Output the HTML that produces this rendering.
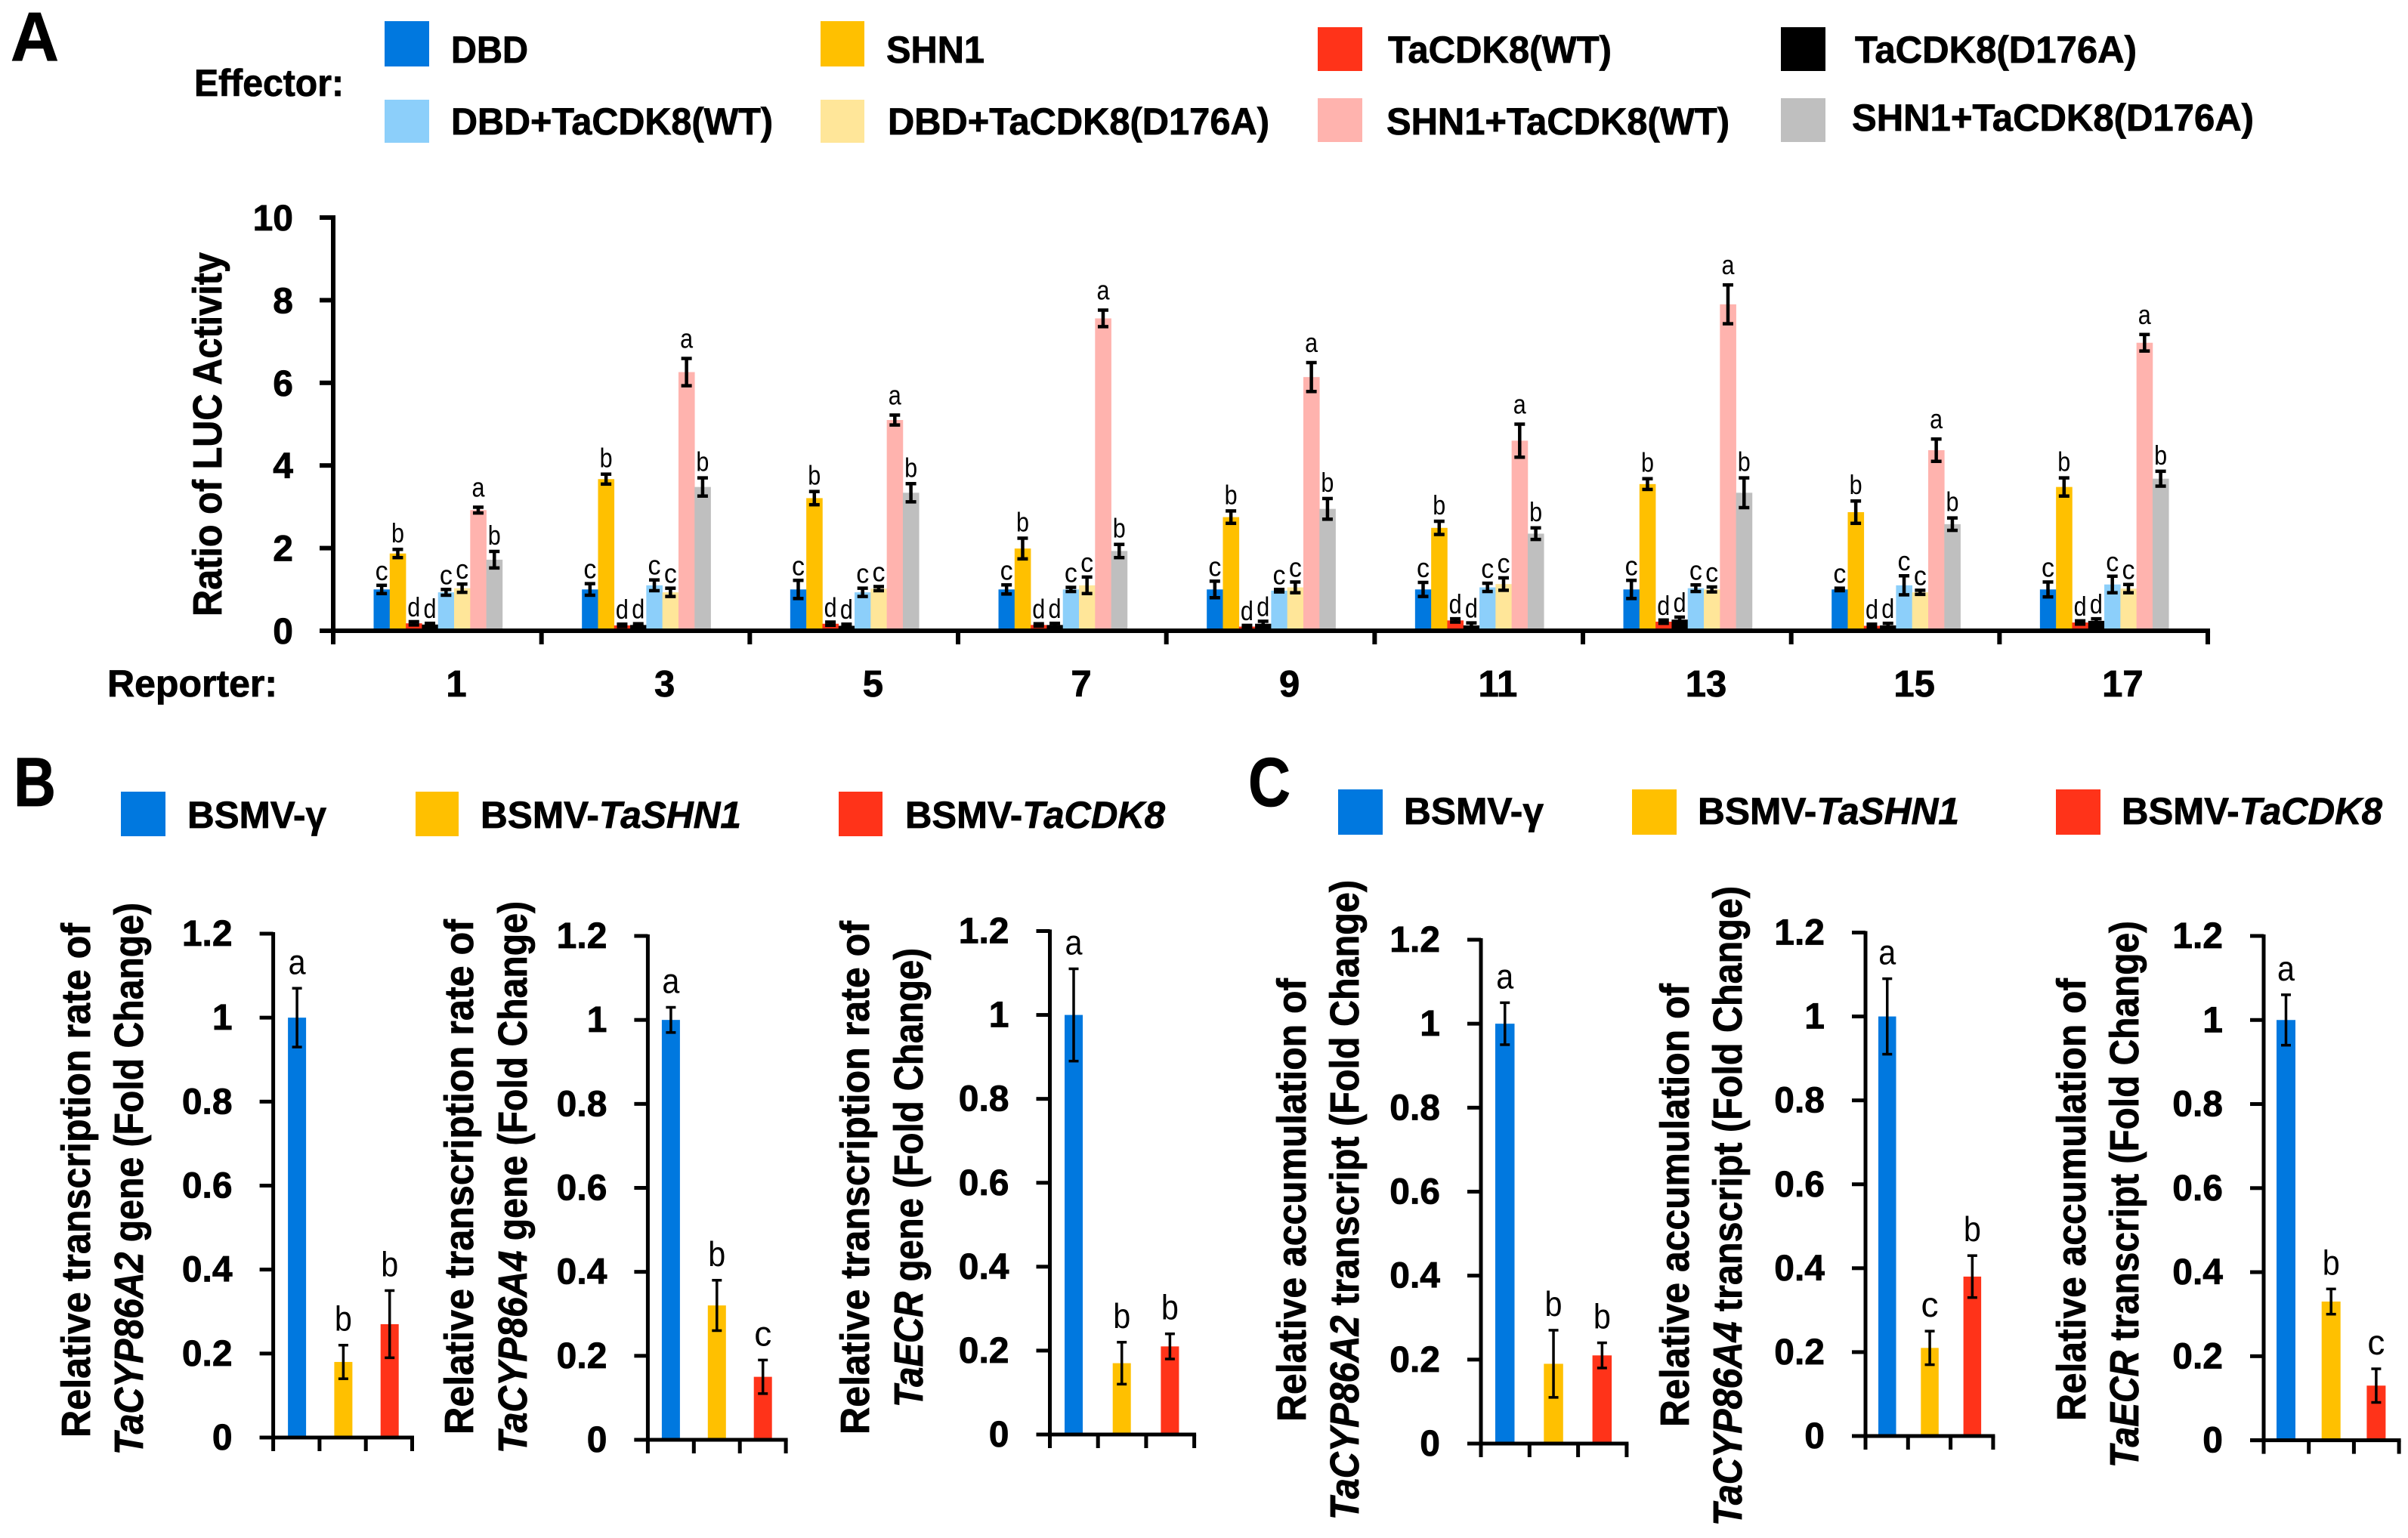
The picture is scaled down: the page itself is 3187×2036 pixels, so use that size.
<!DOCTYPE html>
<html lang="en">
<head>
<meta charset="utf-8">
<title>LUC activity and transcript accumulation charts</title>
<style>
html,body{margin:0;padding:0;background:#fff;}
svg{display:block;font-family:"Liberation Sans",Arial,sans-serif;}
.b{font-weight:700;fill:#000;stroke:#000;stroke-width:0.8px;}
.leg{font-size:50px;}
.ttl{font-size:54px;}
.i{font-style:italic;}
.panel{font-size:92px;font-weight:700;}
</style>
</head>
<body>
<svg id="figure" xmlns="http://www.w3.org/2000/svg" width="3187" height="2036" viewBox="0 0 3187 2036">
  <rect x="0" y="0" width="3187" height="2036" fill="#fff"/>

  <text class="b panel" x="14" y="80" textLength="64" lengthAdjust="spacingAndGlyphs">A</text>
  <text class="b leg" x="257" y="127" textLength="198" lengthAdjust="spacingAndGlyphs">Effector:</text>

  <g>
    <g><rect x="509" y="28" width="59" height="60" fill="#0078DF"/><text class="b leg" x="597" y="83" textLength="102" lengthAdjust="spacingAndGlyphs">DBD</text></g>
    <g><rect x="1086" y="28" width="58" height="60" fill="#FFC000"/><text class="b leg" x="1173" y="83" textLength="130" lengthAdjust="spacingAndGlyphs">SHN1</text></g>
    <g><rect x="1744" y="36" width="59" height="58" fill="#FF3319"/><text class="b leg" x="1837" y="83" textLength="296" lengthAdjust="spacingAndGlyphs">TaCDK8(WT)</text></g>
    <g><rect x="2357" y="36" width="59" height="58" fill="#000"/><text class="b leg" x="2455" y="83" textLength="373" lengthAdjust="spacingAndGlyphs">TaCDK8(D176A)</text></g>
    <g><rect x="509" y="132" width="59" height="57" fill="#8CCFFA"/><text class="b leg" x="597" y="178" textLength="426" lengthAdjust="spacingAndGlyphs">DBD+TaCDK8(WT)</text></g>
    <g><rect x="1086" y="132" width="58" height="57" fill="#FFE699"/><text class="b leg" x="1175" y="178" textLength="505" lengthAdjust="spacingAndGlyphs">DBD+TaCDK8(D176A)</text></g>
    <g><rect x="1744" y="130" width="59" height="58" fill="#FFB3AE"/><text class="b leg" x="1835" y="178" textLength="454" lengthAdjust="spacingAndGlyphs">SHN1+TaCDK8(WT)</text></g>
    <g><rect x="2357" y="130" width="59" height="58" fill="#BFBFBF"/><text class="b leg" x="2451" y="173" textLength="532" lengthAdjust="spacingAndGlyphs">SHN1+TaCDK8(D176A)</text></g>
  </g>

  <text class="b ttl" transform="translate(293,816) rotate(-90)" textLength="482" lengthAdjust="spacingAndGlyphs">Ratio of LUC Activity</text>
  <text class="b leg" x="142" y="922" textLength="225" lengthAdjust="spacingAndGlyphs">Reporter:</text>

  <text class="b panel" x="18" y="1067" textLength="56" lengthAdjust="spacingAndGlyphs">B</text>
  <g>
    <g><rect x="160" y="1048" width="59" height="59" fill="#0078DF"/><text class="b leg" x="248" y="1096" textLength="184" lengthAdjust="spacingAndGlyphs">BSMV-γ</text></g>
    <g><rect x="550" y="1048" width="57" height="59" fill="#FFC000"/><text class="b leg" x="636" y="1096" textLength="345" lengthAdjust="spacingAndGlyphs">BSMV-<tspan class="i">TaSHN1</tspan></text></g>
    <g><rect x="1110" y="1048" width="58" height="59" fill="#FF3319"/><text class="b leg" x="1198" y="1096" textLength="344" lengthAdjust="spacingAndGlyphs">BSMV-<tspan class="i">TaCDK8</tspan></text></g>
  </g>

  <text class="b panel" x="1652" y="1067" textLength="56" lengthAdjust="spacingAndGlyphs">C</text>
  <g>
    <g><rect x="1771" y="1045" width="59" height="60" fill="#0078DF"/><text class="b leg" x="1858" y="1091" textLength="185" lengthAdjust="spacingAndGlyphs">BSMV-γ</text></g>
    <g><rect x="2160" y="1045" width="59" height="60" fill="#FFC000"/><text class="b leg" x="2247" y="1091" textLength="346" lengthAdjust="spacingAndGlyphs">BSMV-<tspan class="i">TaSHN1</tspan></text></g>
    <g><rect x="2721" y="1045" width="59" height="60" fill="#FF3319"/><text class="b leg" x="2808" y="1091" textLength="345" lengthAdjust="spacingAndGlyphs">BSMV-<tspan class="i">TaCDK8</tspan></text></g>
  </g>

  <g>
    <text class="b ttl" transform="translate(119,1903) rotate(-90)" textLength="681" lengthAdjust="spacingAndGlyphs">Relative transcription rate of</text>
    <text class="b ttl" transform="translate(189,1926) rotate(-90)" textLength="731" lengthAdjust="spacingAndGlyphs"><tspan class="i">TaCYP86A2</tspan> gene (Fold Change)</text>
    <text class="b ttl" transform="translate(626,1899) rotate(-90)" textLength="682" lengthAdjust="spacingAndGlyphs">Relative transcription rate of</text>
    <text class="b ttl" transform="translate(697,1924) rotate(-90)" textLength="731" lengthAdjust="spacingAndGlyphs"><tspan class="i">TaCYP86A4</tspan> gene (Fold Change)</text>
    <text class="b ttl" transform="translate(1150,1899) rotate(-90)" textLength="680" lengthAdjust="spacingAndGlyphs">Relative transcription rate of</text>
    <text class="b ttl" transform="translate(1221,1863) rotate(-90)" textLength="608" lengthAdjust="spacingAndGlyphs"><tspan class="i">TaECR</tspan> gene (Fold Change)</text>
  </g>
  <g>
    <text class="b ttl" transform="translate(1728,1882) rotate(-90)" textLength="587" lengthAdjust="spacingAndGlyphs">Relative accumulation of</text>
    <text class="b ttl" transform="translate(1798,2012) rotate(-90)" textLength="847" lengthAdjust="spacingAndGlyphs"><tspan class="i">TaCYP86A2</tspan> transcript (Fold Change)</text>
    <text class="b ttl" transform="translate(2235,1889) rotate(-90)" textLength="587" lengthAdjust="spacingAndGlyphs">Relative accumulation of</text>
    <text class="b ttl" transform="translate(2305,2020) rotate(-90)" textLength="847" lengthAdjust="spacingAndGlyphs"><tspan class="i">TaCYP86A4</tspan> transcript (Fold Change)</text>
    <text class="b ttl" transform="translate(2760,1881) rotate(-90)" textLength="586" lengthAdjust="spacingAndGlyphs">Relative accumulation of</text>
    <text class="b ttl" transform="translate(2830,1943) rotate(-90)" textLength="724" lengthAdjust="spacingAndGlyphs"><tspan class="i">TaECR</tspan> transcript (Fold Change)</text>
  </g>

  <g id="charts"></g>
</svg>

<script>
// Panel A data
const reporterCategories = ['1','3','5','7','9','11','13','15','17'];
const reporterTickLabels = ['0','2','4','6','8','10'];
const reporterTickValues = [0,2,4,6,8,10];

const dbdValues = [1,1,1,1,1,1,1,1,1];
const dbdErrors = [0.1,0.14,0.22,0.11,0.2,0.17,0.22,0.03,0.18];
const shn1Values = [1.87,3.67,3.21,1.99,2.75,2.49,3.55,2.87,3.48];
const shn1Errors = [0.1,0.12,0.16,0.25,0.15,0.16,0.13,0.27,0.22];
const cdk8WtValues = [0.18,0.13,0.17,0.14,0.1,0.25,0.22,0.12,0.2];
const cdk8WtErrors = [0.04,0.03,0.04,0.03,0.03,0.04,0.04,0.04,0.04];
const cdk8MutValues = [0.15,0.14,0.12,0.14,0.17,0.13,0.27,0.13,0.24];
const cdk8MutErrors = [0.03,0.03,0.04,0.04,0.06,0.06,0.06,0.05,0.05];
const dbdWtValues = [0.93,1.1,0.93,1.0,0.97,1.05,1.03,1.1,1.12];
const dbdWtErrors = [0.07,0.13,0.1,0.05,0.03,0.1,0.08,0.23,0.2];
const dbdMutValues = [1.03,0.93,1.02,1.1,1.05,1.13,1.0,0.93,1.02];
const dbdMutErrors = [0.1,0.1,0.05,0.2,0.13,0.15,0.06,0.05,0.1];
const shn1WtValues = [2.92,6.26,5.1,7.56,6.14,4.6,7.9,4.37,6.97];
const shn1WtErrors = [0.07,0.33,0.12,0.2,0.35,0.4,0.47,0.27,0.2];
const shn1MutValues = [1.72,3.48,3.34,1.93,2.95,2.35,3.34,2.58,3.68];
const shn1MutErrors = [0.2,0.22,0.22,0.16,0.25,0.14,0.36,0.15,0.18];

const reporterSeriesNames = ['dbd','shn1','tacdk8-wt','tacdk8-d176a','dbd-tacdk8-wt','dbd-tacdk8-d176a','shn1-tacdk8-wt','shn1-tacdk8-d176a'];
const reporterSeriesLetters = ['c','b','d','d','c','c','a','b'];
const reporterSeriesColors = ['#0078DF','#FFC000','#FF3319','#000000','#8CCFFA','#FFE699','#FFB3AE','#BFBFBF'];

// Panels B and C data
const smallTickValues = [0,0.2,0.4,0.6,0.8,1,1.2];
const smallTickLabels = ['0','0.2','0.4','0.6','0.8','1','1.2'];
const smallCategories = ['bsmv-gamma','bsmv-tashn1','bsmv-tacdk8'];
const smallColors = ['#0078DF','#FFC000','#FF3319'];

const b1Values = [1,0.18,0.27];
const b1Errors = [0.07,0.04,0.08];
const b1Letters = ['a','b','b'];
const b2Values = [1,0.32,0.15];
const b2Errors = [0.03,0.06,0.04];
const b2Letters = ['a','b','c'];
const b3Values = [1,0.17,0.21];
const b3Errors = [0.11,0.05,0.03];
const b3Letters = ['a','b','b'];
const c1Values = [1,0.19,0.21];
const c1Errors = [0.05,0.08,0.03];
const c1Letters = ['a','b','b'];
const c2Values = [1,0.21,0.38];
const c2Errors = [0.09,0.04,0.05];
const c2Letters = ['a','c','b'];
const c3Values = [1,0.33,0.13];
const c3Errors = [0.06,0.03,0.04];
const c3Letters = ['a','b','c'];

const SVG_NS = 'http://www.w3.org/2000/svg';
const root = document.getElementById('charts');

function make(parent, tag, attrs, text) {
  const el = document.createElementNS(SVG_NS, tag);
  for (const k in attrs) el.setAttribute(k, attrs[k]);
  if (text !== undefined) el.textContent = text;
  parent.appendChild(el);
  return el;
}

function drawErrorBar(parent, name, cx, yTop, yBottom, capWidth, stroke) {
  const g = make(parent, 'g', {stroke:'#000', 'stroke-width':stroke, fill:'none'});
  
  
  make(g, 'line', {x1:cx, x2:cx, y1:yTop, y2:yBottom});
  make(g, 'line', {x1:cx-capWidth/2, x2:cx+capWidth/2, y1:yTop, y2:yTop});
  make(g, 'line', {x1:cx-capWidth/2, x2:cx+capWidth/2, y1:yBottom, y2:yBottom});
}

function letterGap(letter) {
  if (letter === 'a') return 14;
  if (letter === 'b') return 9;
  return 7;
}

function drawPanelA() {
  const g = make(root, 'g', {});
  
  

  const axisX = 441, y0 = 835, yTop = 288, xStep = 275.67, barWidth = 21.3, barOffset = 53.5;
  const yScale = v => y0 - (v / 10) * (y0 - yTop);
  const xScale = i => axisX + i * xStep;

  const allValues = [dbdValues,shn1Values,cdk8WtValues,cdk8MutValues,dbdWtValues,dbdMutValues,shn1WtValues,shn1MutValues];
  const allErrors = [dbdErrors,shn1Errors,cdk8WtErrors,cdk8MutErrors,dbdWtErrors,dbdMutErrors,shn1WtErrors,shn1MutErrors];

  reporterCategories.forEach((cat, i) => {
    const group = make(g, 'g', {});
    
    
    reporterSeriesNames.forEach((name, s) => {
      const v = allValues[s][i];
      const x = xScale(i) + barOffset + s * barWidth;
      const bar = make(group, 'rect', {x:x, y:yScale(v), width:barWidth + 0.3, height:y0 - yScale(v), fill:reporterSeriesColors[s]});
      
      
    });
    reporterSeriesNames.forEach((name, s) => {
      const v = allValues[s][i], e = allErrors[s][i];
      const cx = xScale(i) + barOffset + s * barWidth + barWidth / 2;
      drawErrorBar(group, 'error-bar-' + name + '-reporter-' + cat, cx, yScale(v + e), yScale(v - e), 14, 4.5);
      const letter = reporterSeriesLetters[s];
      const t = make(group, 'text', {x:cx, y:yScale(v + e) - letterGap(letter), 'text-anchor':'middle', 'font-size':36, fill:'#000', textLength:17, lengthAdjust:'spacingAndGlyphs'}, letter);
      
      
    });
    const label = make(g, 'text', {x:xScale(i) + 163, y:922, 'text-anchor':'middle', 'font-size':49, 'font-weight':700, fill:'#000', stroke:'#000', 'stroke-width':0.8}, cat);
    
    
  });

  const yAxis = make(g, 'rect', {x:axisX - 3, y:yTop - 3, width:6, height:y0 - yTop + 6, fill:'#000'});
  
  
  const xAxis = make(g, 'rect', {x:423, y:y0 - 3, width:xScale(reporterCategories.length) - 423 + 3, height:6, fill:'#000'});
  
  

  reporterTickValues.forEach((v, i) => {
    const tick = make(g, 'rect', {x:423, y:yScale(v) - 3, width:18, height:6, fill:'#000'});
    
    
    const label = make(g, 'text', {x:388, y:yScale(v) + 17, 'text-anchor':'end', 'font-size':48, 'font-weight':700, fill:'#000', stroke:'#000', 'stroke-width':0.8}, reporterTickLabels[i]);
    
    
  });

  for (let i = 0; i <= reporterCategories.length; i++) {
    const tick = make(g, 'rect', {x:xScale(i) - 3, y:y0, width:6, height:18, fill:'#000'});
    
    
  }
}

function drawSmallChart(name, values, errors, letters, o) {
  const g = make(root, 'g', {});
  
  

  const yScale = v => o.y0 - (v / 1.2) * (o.y0 - o.yTop);
  const xScale = i => o.axisX + i * o.xStep;

  smallCategories.forEach((cat, i) => {
    const x = xScale(i) + o.barOffset;
    const cx = x + o.barWidth / 2;
    const bar = make(g, 'rect', {x:x, y:yScale(values[i]), width:o.barWidth, height:o.y0 - yScale(values[i]), fill:smallColors[i]});
    
    
    drawErrorBar(g, 'error-bar-' + name + '-' + cat, cx, yScale(values[i] + errors[i]), yScale(values[i] - errors[i]), 13, 3.5);
    const t = make(g, 'text', {x:cx, y:yScale(values[i] + errors[i]) - 19, 'text-anchor':'middle', 'font-size':46, fill:'#000', textLength:23, lengthAdjust:'spacingAndGlyphs'}, letters[i]);
    
    
  });

  const yAxis = make(g, 'rect', {x:o.axisX - 2.5, y:o.yTop - 2, width:5, height:o.y0 - o.yTop + 4, fill:'#000'});
  
  
  const xAxis = make(g, 'rect', {x:o.axisX - 18, y:o.y0 - 2.5, width:3 * o.xStep + 18 + 2.5, height:5, fill:'#000'});
  
  

  smallTickValues.forEach((v, i) => {
    const tick = make(g, 'rect', {x:o.axisX - 18, y:yScale(v) - 2.5, width:18, height:5, fill:'#000'});
    
    
    const label = make(g, 'text', {x:o.axisX - 54, y:yScale(v) + 16, 'text-anchor':'end', 'font-size':48, 'font-weight':700, fill:'#000', stroke:'#000', 'stroke-width':0.8}, smallTickLabels[i]);
    
    
  });

  for (let i = 0; i <= smallCategories.length; i++) {
    const tick = make(g, 'rect', {x:xScale(i) - 2.5, y:o.y0, width:5, height:18, fill:'#000'});
    
    
  }
}

drawPanelA();
drawSmallChart('b1', b1Values, b1Errors, b1Letters, {axisX:361.6, y0:1903, yTop:1236, xStep:61.3, barOffset:19.5, barWidth:24});
drawSmallChart('b2', b2Values, b2Errors, b2Letters, {axisX:857.4, y0:1906, yTop:1239, xStep:60.9, barOffset:18.5, barWidth:24});
drawSmallChart('b3', b3Values, b3Errors, b3Letters, {axisX:1389.5, y0:1899, yTop:1232.5, xStep:63.7, barOffset:19.5, barWidth:24});
drawSmallChart('c1', c1Values, c1Errors, c1Letters, {axisX:1960, y0:1911, yTop:1244, xStep:64.3, barOffset:19, barWidth:25.5});
drawSmallChart('c2', c2Values, c2Errors, c2Letters, {axisX:2469, y0:1901, yTop:1234.5, xStep:56.3, barOffset:17, barWidth:23.5});
drawSmallChart('c3', c3Values, c3Errors, c3Letters, {axisX:2996, y0:1906.6, yTop:1239, xStep:59.7, barOffset:17, barWidth:25});
</script>
</body>
</html>
